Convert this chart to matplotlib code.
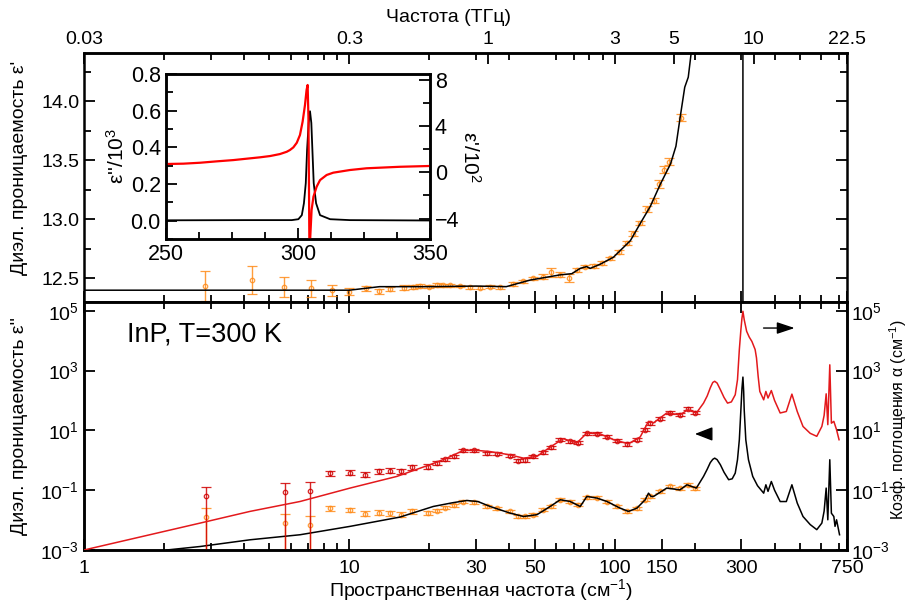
import numpy as np
import matplotlib
matplotlib.use('Agg')
from matplotlib import pyplot as plt
from matplotlib.ticker import FixedLocator, NullFormatter, NullLocator, MultipleLocator, FuncFormatter, LogFormatterSciNotation

plt.rcParams['font.family'] = ['Liberation Sans', 'DejaVu Sans']
plt.rcParams['mathtext.fontset'] = 'custom'
plt.rcParams['mathtext.rm'] = 'Liberation Sans'
plt.rcParams['mathtext.it'] = 'Liberation Sans:italic'
plt.rcParams['mathtext.default'] = 'regular'

# ---------- верхняя панель: eps' ----------
# кривая (см-1, eps')
e1_nu = [1, 10, 13, 20, 30, 39, 48, 62.3, 68.9, 74.1, 78.3, 80.8, 88.1, 98.9, 114.5,
         124.7, 136.1, 148.6, 162.2, 170, 176.4, 183.5, 189.2, 193.8, 200, 250, 290,
         303.9, 304.1, 320, 345, 500, 750]
e1_val = [12.40, 12.40, 12.43, 12.43, 12.435, 12.43, 12.486, 12.53, 12.54, 12.585, 12.60,
          12.585, 12.62, 12.68, 12.82, 12.965, 13.11, 13.30, 13.47, 13.62, 13.867, 14.12,
          14.205, 14.40, 14.7, 18.5, 40, 3000, -3000, -20, 0, 8, 9]
# экспериментальные точки
d1_nu = [2.86, 4.29, 5.69, 7.17, 8.58, 10.0, 11.6, 12.9, 14.2, 16.0, 17.4, 18.5, 19.9,
         21.3, 22.6, 24.0, 26.1, 28.5, 31.0, 33.8, 36.8, 41.4, 45.2, 49.3, 53.8, 57.6,
         62.3, 67.0, 72.1, 77.4, 83.4, 89.6, 96.3, 103.6, 111.5, 117.5, 124.7, 132.3,
         140.0, 146.2, 153.0, 159.8, 178.4]
d1_val = [12.435, 12.486, 12.43, 12.415, 12.40, 12.387, 12.415, 12.39, 12.41, 12.42,
          12.425, 12.435, 12.43, 12.443, 12.44, 12.443, 12.435, 12.426, 12.42, 12.43,
          12.424, 12.452, 12.475, 12.50, 12.514, 12.55, 12.53, 12.505, 12.57, 12.60,
          12.604, 12.63, 12.67, 12.725, 12.80, 12.88, 12.97, 13.09, 13.16, 13.30, 13.42,
          13.49, 13.86]
d1_err = [0.13, 0.12, 0.085, 0.07, 0.045, 0.03, 0.02, 0.02, 0.02, 0.02, 0.015, 0.015,
          0.015, 0.015, 0.015, 0.012, 0.012, 0.012, 0.012, 0.012, 0.012, 0.015, 0.015,
          0.015, 0.02, 0.04, 0.02, 0.035, 0.02, 0.015, 0.015, 0.015, 0.015, 0.015, 0.02,
          0.02, 0.02, 0.025, 0.025, 0.03, 0.03, 0.03, 0.03]

# ---------- нижняя панель (значения как log10) ----------
e2_nu = [2.05, 2.74, 4.22, 6.52, 10.06, 15.5, 20.7, 24.5, 27.7, 30.5, 33.9, 40.3, 45.3,
         50.9, 57.1, 62.3, 67.9, 74.1, 78.5, 85.6, 93.4, 104.7, 112.6, 121.2, 130.2, 134,
         137, 140, 157, 176, 187, 203, 216, 223, 229, 234, 238, 243, 250, 258, 268.6, 277,
         284.4, 290, 294.7, 298.7, 301.5, 304, 306, 307.4, 311.7, 319, 331, 345, 364, 371,
         378, 389, 400, 420, 443, 465, 487, 512, 545, 577, 603, 615, 626, 635, 646, 655,
         669, 676, 685, 703]
e2_lg = [-3.0, -2.883, -2.659, -2.49, -2.21, -1.90, -1.545, -1.42, -1.345, -1.38, -1.545,
         -1.766, -1.88, -1.82, -1.545, -1.32, -1.378, -1.545, -1.21, -1.264, -1.378, -1.60,
         -1.71, -1.60, -1.32, -1.10, -1.21, -1.21, -0.93, -0.99, -0.82, -0.93, -0.54,
         -0.30, -0.08, 0.03, 0.07, 0.02, -0.15, -0.40, -0.65, -0.62, -0.43, 0.017, 0.686,
         1.69, 2.40, 2.78, 2.30, 1.69, 0.686, 0.017, -0.54, -0.85, -1.10, -0.82, -1.04,
         -0.71, -1.0, -1.38, -1.38, -0.82, -1.43, -1.88, -2.15, -2.32, -2.10, -1.70, -0.93,
         -1.99, 0.017, -1.77, -1.88, -2.21, -1.99, -2.49]

al_nu = [1.0, 1.77, 2.74, 4.22, 6.52, 10.06, 15.1, 20.1, 23.3, 26.9, 30.2, 33.9, 40.3,
         45.3, 50.9, 57.1, 64, 72, 78.5, 88.1, 99, 112.6, 124.7, 134, 140, 157, 176, 189,
         203, 216, 223, 229, 234, 238, 243, 250, 258, 266, 275, 284.4, 290, 294.7, 298.7,
         301.5, 304, 307.4, 314, 321, 328.7, 338, 342, 347, 352, 364, 371, 378, 389, 400,
         420, 443, 465, 487, 512, 545, 577, 603, 615, 626, 635, 646, 655, 669, 685, 700]
al_lg = [-3.0, -2.49, -2.10, -1.71, -1.378, -0.93, -0.54, -0.15, 0.07, 0.33, 0.33, 0.29,
         0.18, 0.07, 0.13, 0.44, 0.72, 0.58, 0.91, 0.88, 0.686, 0.55, 0.78, 1.30, 1.25,
         1.58, 1.52, 1.69, 1.58, 1.91, 2.15, 2.42, 2.60, 2.64, 2.58, 2.36, 2.10, 1.91, 1.95,
         2.19, 2.69, 3.70, 4.36, 4.75, 4.98, 4.70, 4.31, 4.12, 3.97, 3.70, 3.42, 2.80, 2.30,
         2.02, 2.30, 2.08, 2.33, 2.00, 1.58, 1.63, 2.21, 1.63, 1.13, 0.90, 0.80, 1.13, 1.50,
         2.22, 1.19, 3.19, 1.24, 1.30, 1.02, 0.686]

d2_nu = [2.87, 5.72, 7.13, 8.46, 10.06, 11.5, 12.9, 14.2, 15.7, 17.2, 19.8, 21.3, 23.0,
         24.7, 26.9, 29.4, 32.9, 36.0, 40.3, 43.2, 45.9, 49.3, 53.8, 57.6, 62.3, 67.9,
         72.8, 78.5, 85.6, 93.4, 101.8, 111.5, 121.2, 130.2, 136, 148.6, 162, 176, 189, 200]
d2_lg = [-1.90, -2.10, -2.157, -1.60, -1.66, -1.79, -1.75, -1.77, -1.82, -1.71, -1.77,
         -1.68, -1.58, -1.51, -1.38, -1.41, -1.545, -1.60, -1.71, -1.88, -1.88, -1.82,
         -1.66, -1.545, -1.32, -1.38, -1.49, -1.23, -1.26, -1.38, -1.545, -1.71, -1.60,
         -1.32, -1.21, -1.04, -0.876, -0.93, -0.82, -0.93]
da_lg = [-1.21, -1.076, -1.04, -0.43, -0.41, -0.485, -0.375, -0.35, -0.375, -0.23, -0.21,
         -0.095, 0.04, 0.13, 0.33, 0.33, 0.24, 0.22, 0.15, -0.01, 0.017, 0.13, 0.26, 0.44,
         0.686, 0.63, 0.58, 0.91, 0.89, 0.78, 0.65, 0.55, 0.686, 1.02, 1.24, 1.38, 1.58,
         1.52, 1.72, 1.58]
# погрешности в декадах (вверх / вниз)
d2_up = [0.30, 0.31, 0.31, 0.08, 0.08, 0.08, 0.08, 0.08, 0.08, 0.08, 0.07, 0.06, 0.05,
         0.05, 0.05, 0.05, 0.05, 0.05, 0.05, 0.06, 0.06, 0.05, 0.05, 0.05, 0.05, 0.05,
         0.05, 0.05, 0.05, 0.05, 0.05, 0.06, 0.05, 0.05, 0.05, 0.05, 0.05, 0.05, 0.05, 0.05]
d2_dn = [6, 6, 6, 0.08, 0.08, 0.08, 0.08, 0.08, 0.08, 0.08, 0.07, 0.06, 0.05, 0.05, 0.05,
         0.05, 0.05, 0.05, 0.05, 0.06, 0.06, 0.05, 0.05, 0.05, 0.05, 0.05, 0.05, 0.05,
         0.05, 0.05, 0.05, 0.06, 0.05, 0.05, 0.05, 0.05, 0.05, 0.05, 0.05, 0.05]

# ---------- вставка ----------
in_nu_b = [250, 280, 297.7, 300.2, 301.5, 302.3, 303.0, 303.5, 304.1, 304.6, 305.1, 305.5,
           306.0, 306.9, 308.4, 312.2, 319.7, 350]
in_eps2 = [0.002, 0.003, 0.003, 0.008, 0.03, 0.095, 0.205, 0.387, 0.533, 0.597, 0.533,
           0.387, 0.205, 0.095, 0.03, 0.008, 0.003, 0.001]
in_nu_r = [250, 256.7, 263, 269.3, 275.6, 281.9, 285.7, 289.5, 293.2, 295.8, 297.0, 298.3,
           299.6, 300.8, 301.8, 302.7, 303.3, 303.7, 304.0, 304.2, 304.45, 304.7, 305.2,
           305.9, 307.1, 308.4, 310.9, 313.4, 319.7, 326, 338.6, 350]
in_eps1 = [0.72, 0.75, 0.83, 0.95, 1.06, 1.21, 1.30, 1.41, 1.58, 1.78, 1.93, 2.16, 2.56,
           3.23, 4.38, 5.83, 7.13, 7.56, 4.81, -0.95, -9.0, -5.58, -3.26, -2.11, -1.25,
           -0.67, -0.23, -0.03, 0.20, 0.35, 0.48, 0.55]

xt_major = [1, 10, 30, 50, 100, 150, 300, 750]
xt_minor = [2, 3, 4, 5, 6, 7, 8, 9, 20, 40, 60, 70, 80, 90, 200, 400, 500, 600, 700]
thz_major = [0.03, 0.3, 1, 3, 5, 10, 22.5]

orange = '#ff8c1a'
red_c = '#e3191c'
red_d = '#d00000'

W, H = 909, 603


def box(x0, y0, x1, y1):
    return [x0 / W, 1 - y1 / H, (x1 - x0) / W, (y1 - y0) / H]


def style(ax, size=14):
    for s in ax.spines.values():
        s.set_linewidth(1.8)
    ax.tick_params(which='both', direction='in', width=1.3, labelsize=size)
    ax.tick_params(which='major', length=8)
    ax.tick_params(which='minor', length=5)


fig = plt.figure(figsize=(9.09, 6.03), dpi=100)
ax1 = fig.add_axes(box(84, 53, 847, 302))
ax2 = fig.add_axes(box(84, 302, 847, 550))

for ax in (ax1, ax2):
    ax.set_xscale('log')
    ax.set_xlim(1, 750)
    ax.xaxis.set_major_locator(FixedLocator(xt_major))
    ax.xaxis.set_minor_locator(FixedLocator(xt_minor))
    ax.xaxis.set_minor_formatter(NullFormatter())
    ax.xaxis.set_major_formatter(FuncFormatter(lambda v, p: '%g' % v))
    style(ax)

# верхняя панель
ax1.plot(e1_nu, e1_val, color='k', lw=1.1, zorder=3)
ax1.errorbar(d1_nu, d1_val, yerr=d1_err, fmt='o', ms=3.2, mfc='none', mec=orange, mew=0.9,
             ecolor=orange, elinewidth=1, capsize=3.5, capthick=1, alpha=0.85, zorder=2)
ax1.set_ylim(12.30, 14.41)
ax1.yaxis.set_major_locator(MultipleLocator(0.5))
ax1.yaxis.set_minor_locator(MultipleLocator(0.25))
ax1.yaxis.set_major_formatter(FuncFormatter(lambda v, p: '%.1f' % v))
ax1.tick_params(which='both', labelbottom=False, right=True, top=False)
fig.text(20 / W, 1 - 168 / H, "Диэл. проницаемость ε'", fontsize=14, rotation=90,
         ha='center', va='center')

sec = ax1.secondary_xaxis('top', functions=(lambda x: x * 0.03, lambda t: t / 0.03))
sec.xaxis.set_major_locator(FixedLocator(thz_major))
sec.xaxis.set_minor_locator(FixedLocator([v * 0.03 for v in xt_minor + [30, 300]]))
sec.xaxis.set_major_formatter(FuncFormatter(lambda v, p: '%g' % v))
sec.xaxis.set_minor_formatter(NullFormatter())
style(sec)
fig.text(448 / W, 1 - 17 / H, 'Частота (ТГц)', fontsize=14, ha='center', va='center')

# нижняя панель
ax2.plot(e2_nu, 10 ** np.array(e2_lg), color='k', lw=1.1, zorder=3)
v2 = 10 ** np.array(d2_lg)
yerr2 = [v2 - 10 ** (np.array(d2_lg) - np.array(d2_dn)), 10 ** (np.array(d2_lg) + np.array(d2_up)) - v2]
ax2.errorbar(d2_nu, v2, yerr=yerr2, fmt='o', ms=3.2, mfc='none', mec=orange, mew=0.9,
             ecolor=orange, elinewidth=1, capsize=3.5, capthick=1, alpha=0.85, zorder=2)
ax2.set_yscale('log')
ylim2 = (1e-3, 10 ** 5.29)
ax2.set_ylim(*ylim2)
ax2.yaxis.set_major_locator(FixedLocator([1e-3, 1e-1, 1e1, 1e3, 1e5]))
ax2.yaxis.set_minor_locator(NullLocator())
ax2.yaxis.set_major_formatter(LogFormatterSciNotation())
ax2.tick_params(which='both', top=True)
ax2.tick_params(axis='x', pad=7)
fig.text(20 / W, 1 - 426 / H, "Диэл. проницаемость ε''", fontsize=14, rotation=90,
         ha='center', va='center')

ax2r = ax2.twinx()
ax2r.set_yscale('log')
ax2r.plot(al_nu, 10 ** np.array(al_lg), color=red_c, lw=1.1, zorder=3)
va = 10 ** np.array(da_lg)
yerra = [va - 10 ** (np.array(da_lg) - np.array(d2_dn)), 10 ** (np.array(da_lg) + np.array(d2_up)) - va]
ax2r.errorbar(d2_nu, va, yerr=yerra, fmt='o', ms=3.2, mfc='none', mec=red_d, mew=0.9,
              ecolor=red_d, elinewidth=1, capsize=3.5, capthick=1, alpha=0.85, zorder=2)
ax2r.set_ylim(*ylim2)
ax2r.yaxis.set_major_locator(FixedLocator([1e-3, 1e-1, 1e1, 1e3, 1e5]))
ax2r.yaxis.set_minor_locator(NullLocator())
ax2r.yaxis.set_major_formatter(LogFormatterSciNotation())
style(ax2r)
ax2r.tick_params(axis='y', pad=3)
fig.text(898 / W, 1 - 420 / H, 'Коэф. поглощения α (см$^{-1}$)', fontsize=11.5, rotation=90,
         ha='center', va='center')

fig.text(481 / W, 1 - 590 / H, 'Пространственная частота (см$^{-1}$)', fontsize=14,
         ha='center', va='center')

ax2.text((127 - 84) / 763, (550 - 342) / 248, 'InP, T=300 K', fontsize=19.5,
         transform=ax2.transAxes, va='baseline', ha='left')
ax2.annotate('', xy=(0.935, 0.895), xytext=(0.887, 0.895), xycoords='axes fraction',
             arrowprops=dict(arrowstyle='-|>,head_length=0.9,head_width=0.3', color='k', lw=1,
                             mutation_scale=12))
ax2.annotate('', xy=(0.797, 0.468), xytext=(0.812, 0.468), xycoords='axes fraction',
             arrowprops=dict(arrowstyle='-|>,head_length=0.9,head_width=0.35', color='k', lw=1,
                             mutation_scale=12))

# вставка
axin = fig.add_axes(box(165.7, 74, 430, 239))
axin.plot(in_nu_b, in_eps2, color='k', lw=1.3)
axin.set_xlim(250, 350)
axin.set_ylim(-0.1, 0.8)
axin.xaxis.set_major_locator(MultipleLocator(50))
axin.xaxis.set_minor_locator(MultipleLocator(12.5))
axin.yaxis.set_major_locator(MultipleLocator(0.2))
axin.yaxis.set_minor_locator(MultipleLocator(0.1))
axin.yaxis.set_major_formatter(FuncFormatter(lambda v, p: '%.1f' % v))
style(axin, 15.5)
axin.set_ylabel("ε''/10$^{3}$", fontsize=15, labelpad=2)
axinr = axin.twinx()
axinr.plot(in_nu_r, in_eps1, color='#ff0000', lw=1.6)
axinr.set_ylim(-5.77, 8.51)
axinr.yaxis.set_major_locator(MultipleLocator(4))
axinr.yaxis.set_minor_locator(MultipleLocator(2))
style(axinr, 15.5)
axinr.set_ylabel("ε'/10$^{2}$", fontsize=15, rotation=270, labelpad=16)

fig.savefig('out.png', dpi=100)
